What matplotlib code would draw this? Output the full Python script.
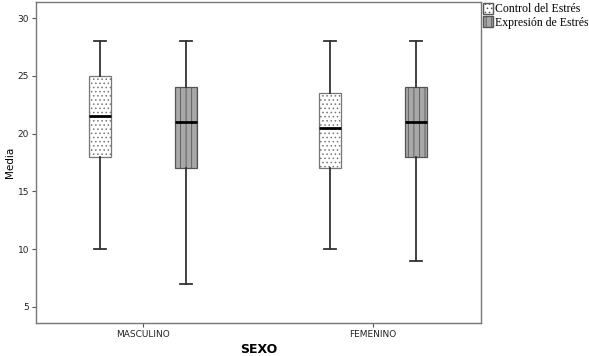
import numpy as np
import matplotlib.pyplot as plt
from matplotlib.patches import Patch

plt.rcParams['hatch.linewidth'] = 0.6

categories = ["MASCULINO", "FEMENINO"]
series = ["Control del Estrés", "Expresión de Estrés"]

# five-number summaries: [whislo, q1, med, q3, whishi]
control = [[10, 18, 21.5, 25, 28], [10, 17, 20.5, 23.5, 28]]
expresion = [[7, 17, 21, 24, 28], [9, 18, 21, 24, 28]]

fig = plt.figure(figsize=(5.89, 3.56), dpi=100)
ax = fig.add_axes([36 / 589, 1 - 323 / 356, (481 - 36) / 589, (323 - 2) / 356])

offset = 0.187
width = 0.096
styles = [dict(face="white", hatch="....", edge="#777777"),
          dict(face="#a8a8a8", hatch="|||", edge="#555555")]

for s, data in enumerate([control, expresion]):
    stats = []
    for vals in data:
        lo, q1, med, q3, hi = vals
        stats.append(dict(whislo=lo, q1=q1, med=med, q3=q3, whishi=hi, fliers=[]))
    pos = np.arange(len(categories)) + (-offset if s == 0 else offset)
    bp = ax.bxp(stats, positions=pos, widths=width, patch_artist=True,
                showfliers=False, manage_ticks=False,
                boxprops=dict(linewidth=0.9, edgecolor=styles[s]["edge"]),
                whiskerprops=dict(color="#333333", linewidth=1.3),
                capprops=dict(color="#333333", linewidth=1.3),
                medianprops=dict(color="black", linewidth=2))
    for b in bp["boxes"]:
        b.set_facecolor(styles[s]["face"])
        b.set_hatch(styles[s]["hatch"])
    for c in bp["caps"]:
        x = c.get_xdata()
        m = x.mean()
        c.set_xdata([m - width * 0.28, m + width * 0.28])

ax.set_xlim(-0.465, 1.47)
ax.set_ylim(3.6, 31.4)
ax.set_yticks([5, 10, 15, 20, 25, 30])
ax.set_xticks(np.arange(len(categories)))
ax.set_xticklabels(categories)
ax.tick_params(axis="both", labelsize=6.5, length=3, pad=2,
               color="#555555", labelcolor="#222222")
for sp in ax.spines.values():
    sp.set_color("#777777")
    sp.set_linewidth(1.0)

ax.set_ylabel("Media", fontsize=7.5, labelpad=2)
ax.set_xlabel("SEXO", fontsize=9, fontweight="bold", labelpad=3)

handles = [Patch(facecolor=styles[i]["face"], edgecolor="#555555",
                 hatch=styles[i]["hatch"], label=series[i]) for i in range(2)]
fig.legend(handles=handles, loc="upper left", bbox_to_anchor=(482 / 589, 0.995),
           frameon=False, prop=dict(family="Liberation Serif", size=8.5),
           handlelength=0.8, handleheight=1.0, handletextpad=0.2,
           labelspacing=0.1, borderaxespad=0.0, borderpad=0.1)

fig.savefig("out.png", dpi=100)
